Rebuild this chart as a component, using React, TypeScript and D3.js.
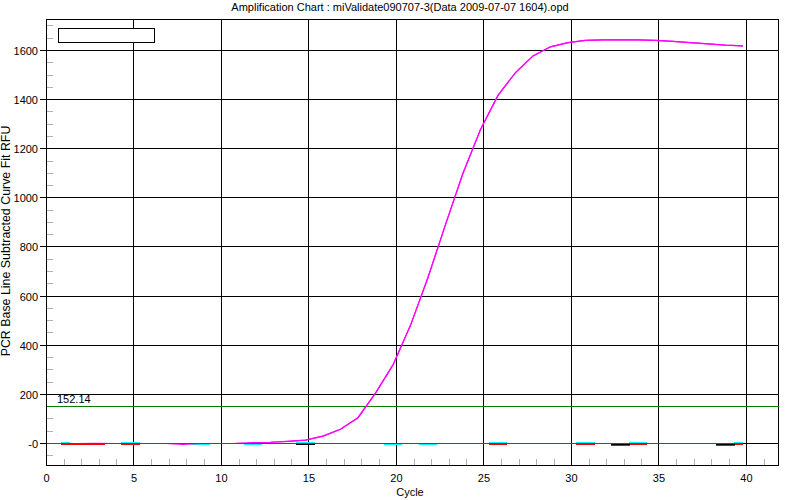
import React from 'react';
import * as d3 from 'd3';

const TITLE = 'Amplification Chart : miValidate090707-3(Data 2009-07-07 1604).opd';
const Y_LABEL = 'PCR Base Line Subtracted Curve Fit RFU';
const X_LABEL = 'Cycle';

const cycles = [1,2,3,4,5,6,7,8,9,10,11,12,13,14,15,16,17,18,19,20,21,22,23,24,25,26,27,28,29,30,31,32,33,34,35,36,37,38,39,40];
const sampleRFU = [0,0,1,0,0,0,0,-4,0,0,1,4,5,9,14,30,58,105,205,320,481,676,891,1100,1278,1417,1510,1578,1615,1632,1641,1643,1643,1643,1641,1637,1632,1627,1622,1619];
const cyanRFU = [4,0,0,0,4,0,0,0,-4,0,0,-4,0,0,4,0,0,0,0,-4,0,-4,0,0,0,4,0,0,0,0,4,0,0,4,0,0,0,0,0,4];
const redRFU = [-4,-4,-4,0,-4,0,0,0,0,0,0,0,0,0,0,0,0,0,0,0,0,0,0,0,0,-4,0,0,0,0,-4,0,-8,-4,0,0,0,0,-8,-4];
const blackRFU = [0,0,0,0,0,0,0,0,0,0,0,0,0,0,-4,0,0,0,0,0,0,0,0,0,0,0,0,0,0,0,0,0,-4,0,0,0,0,0,-4,0];

const threshold = 152.14;
const thresholdLabel = '152.14';
const yTicks = [0,200,400,600,800,1000,1200,1400,1600];
const yTickLabels = ['-0','200','400','600','800','1000','1200','1400','1600'];
const yMinorTicks = [-50,50,100,150,250,300,350,450,500,550,650,700,750,850,900,950,1050,1100,1150,1250,1300,1350,1450,1500,1550,1650,1700];
const xTicks = [0,5,10,15,20,25,30,35,40];
const xTickLabels = ['0','5','10','15','20','25','30','35','40'];
const xMinorTicks = [1,2,3,4,6,7,8,9,11,12,13,14,16,17,18,19,21,22,23,24,26,27,28,29,31,32,33,34,36,37,38,39,41];
const xDomain = [0, 41.83];
const yDomain = [-89.6, 1726.2];
const cycleShift = -0.2;

const FONT = '"Liberation Sans", Arial, sans-serif';

export default function App() {
  const left = 46.5, right = 778.5, top = 19.5, bottom = 465.5;
  const x = d3.scaleLinear().domain(xDomain).range([left, right]);
  const y = d3.scaleLinear().domain(yDomain).range([bottom, top]);
  const yPix = (v: number) => Math.floor(y(v)) + 0.5;

  const mkLine = (vals: number[], curve: any, snap = false) =>
    d3.line<number>()
      .defined((v) => !Number.isNaN(v))
      .x((_, i) => x(cycles[i] + cycleShift))
      .y((v) => (snap ? yPix(v) : y(v)))
      .curve(curve)(vals) || '';

  const lastCycle = cycles[cycles.length - 1] + cycleShift;

  return (
    <svg width={800} height={500} style={{ position: 'absolute', left: 0, top: 0, background: '#fff' }} fontFamily={FONT}>
      <rect x={0} y={0} width={800} height={500} fill="#fff" />
      <text x={400} y={11} textAnchor="middle" fontSize={11} fill="#000">{TITLE}</text>

      {/* minor ticks */}
      {yMinorTicks.map((t) => (
        <line key={'ym' + t} x1={left} x2={left + 6} y1={yPix(t)} y2={yPix(t)} stroke="#b0b0b0" shapeRendering="crispEdges" />
      ))}
      {xMinorTicks.map((t) => (
        <line key={'xm' + t} x1={Math.round(x(t)) + 0.5} x2={Math.round(x(t)) + 0.5} y1={bottom} y2={bottom - 7} stroke="#b0b0b0" shapeRendering="crispEdges" />
      ))}

      {/* grid */}
      {yTicks.map((t) => (
        <line key={'yg' + t} x1={left - 7} x2={right} y1={yPix(t)} y2={yPix(t)} stroke="#000" shapeRendering="crispEdges" />
      ))}
      {xTicks.map((t) => (
        <line key={'xg' + t} x1={Math.floor(x(t)) + 0.5} x2={Math.floor(x(t)) + 0.5} y1={top} y2={bottom} stroke="#000" shapeRendering="crispEdges" />
      ))}
      <rect x={left} y={top} width={right - left} height={bottom - top} fill="none" stroke="#000" shapeRendering="crispEdges" />

      {/* threshold */}
      <line x1={left} x2={right} y1={yPix(threshold)} y2={yPix(threshold)} stroke="#008000" strokeWidth={1} shapeRendering="crispEdges" />
      <text x={57} y={403} fontSize={11} fill="#000">{thresholdLabel}</text>

      {/* near-zero series */}
      <path d={mkLine(cyanRFU, d3.curveStep, true)} fill="none" stroke="#00ffff" strokeWidth={1} shapeRendering="crispEdges" />
      <path d={mkLine(sampleRFU, d3.curveLinear)} fill="none" stroke="#ff00ff" strokeWidth={1.2} />
      <path d={mkLine(redRFU, d3.curveStep, true)} fill="none" stroke="#ff0000" strokeWidth={1} shapeRendering="crispEdges" />
      <path d={mkLine(blackRFU, d3.curveStep, true)} fill="none" stroke="#000" strokeWidth={1} shapeRendering="crispEdges" />
      <line x1={x(0)} x2={x(lastCycle)} y1={yPix(0)} y2={yPix(0)} stroke="#ff0000" strokeWidth={1} shapeRendering="crispEdges" />
      <path d={mkLine(sampleRFU.map((v) => (v > 3 ? v : NaN)), d3.curveLinear)} fill="none" stroke="#ff00ff" strokeWidth={1.2} />

      {/* legend box */}
      <rect x={58.5} y={28.5} width={96} height={14} fill="#fff" stroke="#000" shapeRendering="crispEdges" />

      {/* axes labels */}
      {yTicks.map((t, i) => (
        <text key={'yl' + t} x={38} y={yPix(t) + 4} textAnchor="end" fontSize={11} fill="#000">{yTickLabels[i]}</text>
      ))}
      {xTicks.map((t, i) => (
        <text key={'xl' + t} x={x(t)} y={482} textAnchor="middle" fontSize={11} fill="#000">{xTickLabels[i]}</text>
      ))}
      <text x={410} y={496} textAnchor="middle" fontSize={11} fill="#000">{X_LABEL}</text>
      <text transform={`translate(10,${241}) rotate(-90)`} textAnchor="middle" fontSize={12.4} fill="#000">{Y_LABEL}</text>
    </svg>
  );
}
